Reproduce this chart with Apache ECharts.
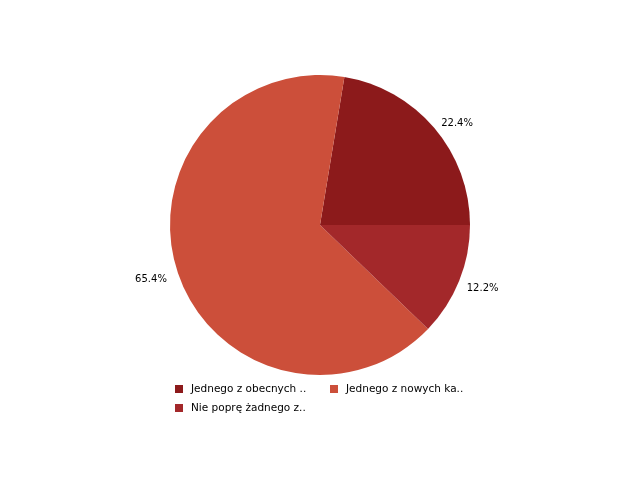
<!DOCTYPE html>
<html>
<head>
<meta charset="utf-8">
<script src="https://cdn.jsdelivr.net/npm/echarts@6/dist/echarts.min.js"></script>
<style>
  html, body { margin: 0; padding: 0; background: #fff; }
  #chart { width: 640px; height: 500px; }
</style>
</head>
<body>
<div id="chart"></div>
<script>
// 数据
const names = ['Jednego z obecnych ..', 'Jednego z nowych ka..', 'Nie poprę żadnego z..'];
const values = [22.4, 65.4, 12.2];
const colors = ['#8c1a1b', '#cc4f3a', '#a3282a'];

const chart = echarts.init(document.getElementById('chart'));

// 标签微调
const labelShift = [[-2, -1], [-1, 6], [-2, 5]];

const option = {
    backgroundColor: '#fff',
    animation: false,
    color: colors,
    legend: {
        left: 170,
        top: 377,
        width: 320,
        itemWidth: 8,
        itemHeight: 8,
        itemGap: 5,
        icon: 'rect',
        textStyle: {
            fontFamily: 'DejaVu Sans',
            fontSize: 10.5,
            color: '#000',
            width: 134,
            lineHeight: 14,
            padding: [0, 0, 0, 3]
        },
        data: names
    },
    series: [{
        type: 'pie',
        center: [320, 225],
        radius: 150,
        startAngle: 0,
        clockwise: false,
        label: {
            position: 'outside',
            formatter: p => p.value.toFixed(1) + '%',
            fontFamily: 'DejaVu Sans',
            fontSize: 10,
            color: '#000'
        },
        labelLine: { show: false, length: 5, length2: 0 },
        labelLayout: p => ({ dx: labelShift[p.dataIndex][0], dy: labelShift[p.dataIndex][1] }),
        emphasis: { disabled: true },
        data: names.map((n, i) => ({ name: n, value: values[i] }))
    }]
};

chart.setOption(option);
</script>
</body>
</html>
